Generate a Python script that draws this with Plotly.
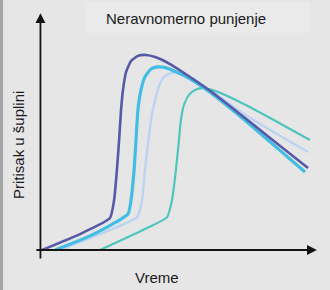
import plotly.graph_objects as go

# Data (arbitrary units: time 0-100, pressure 0-100)
dark_x = [0.4, 14.8, 24.9, 26.4, 27.4, 28.2, 28.9, 29.6, 30.7, 32.5, 35.0, 37.9, 41.2, 46.6, 53.8, 62.1, 71.8, 82.7, 96.4]
dark_y = [0.0, 7.2, 13.6, 21.3, 34.0, 46.8, 59.6, 68.1, 75.7, 80.4, 82.6, 83.0, 82.1, 79.1, 73.6, 66.8, 57.9, 47.7, 34.9]

cyan_x = [5.1, 17.7, 31.4, 32.5, 33.6, 34.3, 35.0, 36.1, 37.5, 39.7, 42.2, 45.5, 52.0, 61.0, 71.8, 82.7, 95.3]
cyan_y = [0.0, 6.0, 15.3, 21.3, 34.0, 46.8, 59.6, 68.1, 73.6, 77.0, 77.9, 77.4, 74.0, 67.2, 57.0, 46.0, 33.2]

pale_x = [6.9, 21.3, 34.7, 36.5, 37.5, 38.6, 39.7, 41.2, 42.6, 44.4, 46.9, 49.5, 55.0, 63.5, 74.4, 84.5, 96.4]
pale_y = [0.0, 6.8, 14.0, 21.3, 34.0, 44.7, 55.3, 63.8, 69.8, 73.6, 75.3, 75.7, 73.0, 66.0, 57.0, 49.8, 41.7]

teal_x = [21.3, 36.8, 45.5, 47.3, 48.7, 49.8, 50.5, 51.6, 53.4, 55.6, 58.1, 62.8, 71.8, 82.7, 97.1]
teal_y = [0.0, 8.5, 14.0, 21.3, 34.0, 46.8, 55.3, 61.7, 66.0, 68.1, 68.9, 67.7, 63.0, 56.2, 46.8]

title_text = "Neravnomerno punjenje"
x_label = "Vreme"
y_label = "Pritisak u šuplini"

fig = go.Figure()
series = [
    (pale_x, pale_y, "#bcd3f2", 2.4),
    (teal_x, teal_y, "#4fc6bd", 2.2),
    (cyan_x, cyan_y, "#42bde3", 3.2),
    (dark_x, dark_y, "#5659a6", 2.6),
]
for xs, ys, col, w in series:
    fig.add_trace(go.Scatter(x=xs, y=ys, mode="lines",
                             line=dict(color=col, width=w, shape="spline", smoothing=0.5),
                             hoverinfo="skip", showlegend=False))

# axes with arrows
fig.add_annotation(x=-0.2, y=100.8, ax=-0.2, ay=-4.3, xref="x", yref="y", axref="x", ayref="y",
                   text="", showarrow=True, arrowhead=2, arrowsize=1.1, arrowwidth=1.8, arrowcolor="#151515")
fig.add_annotation(x=99.6, y=0, ax=-2.2, ay=0, xref="x", yref="y", axref="x", ayref="y",
                   text="", showarrow=True, arrowhead=2, arrowsize=1.1, arrowwidth=1.8, arrowcolor="#151515")

# title background box and left strip
fig.add_shape(type="rect", xref="paper", yref="paper", x0=0.175, x1=0.965, y0=0.909, y1=1.032,
              fillcolor="#eaeaeb", line=dict(width=0), layer="below")
fig.add_shape(type="rect", xref="paper", yref="paper", x0=-0.123, x1=-0.112, y0=-0.12, y1=1.05,
              fillcolor="#a5a5a7", line=dict(width=0), layer="below")

fig.add_annotation(text=title_text, xref="paper", yref="paper", x=(186 - 35) / 285, y=(262 - 19) / 252,
                   showarrow=False, font=dict(size=15, color="#1a1a1a", family="Liberation Sans"),
                   xanchor="center", yanchor="middle")
fig.add_annotation(text=x_label, xref="paper", yref="paper", x=(157 - 35) / 285, y=(262 - 277) / 252,
                   showarrow=False, font=dict(size=15, color="#1a1a1a", family="Liberation Sans"),
                   xanchor="center", yanchor="middle")
fig.add_annotation(text=y_label, xref="paper", yref="paper", x=(18 - 35) / 285, y=(262 - 145) / 252,
                   showarrow=False, textangle=-90, font=dict(size=15, color="#1a1a1a", family="Liberation Sans"),
                   xanchor="center", yanchor="middle")

fig.update_layout(
    width=330, height=290,
    margin=dict(l=35, r=10, t=10, b=28),
    paper_bgcolor="#e6e6e7", plot_bgcolor="rgba(0,0,0,0)",
    xaxis=dict(range=[-2.166, 100.72], visible=False, fixedrange=True),
    yaxis=dict(range=[-5.106, 102.13], visible=False, fixedrange=True),
)
fig.write_html("out.html")
